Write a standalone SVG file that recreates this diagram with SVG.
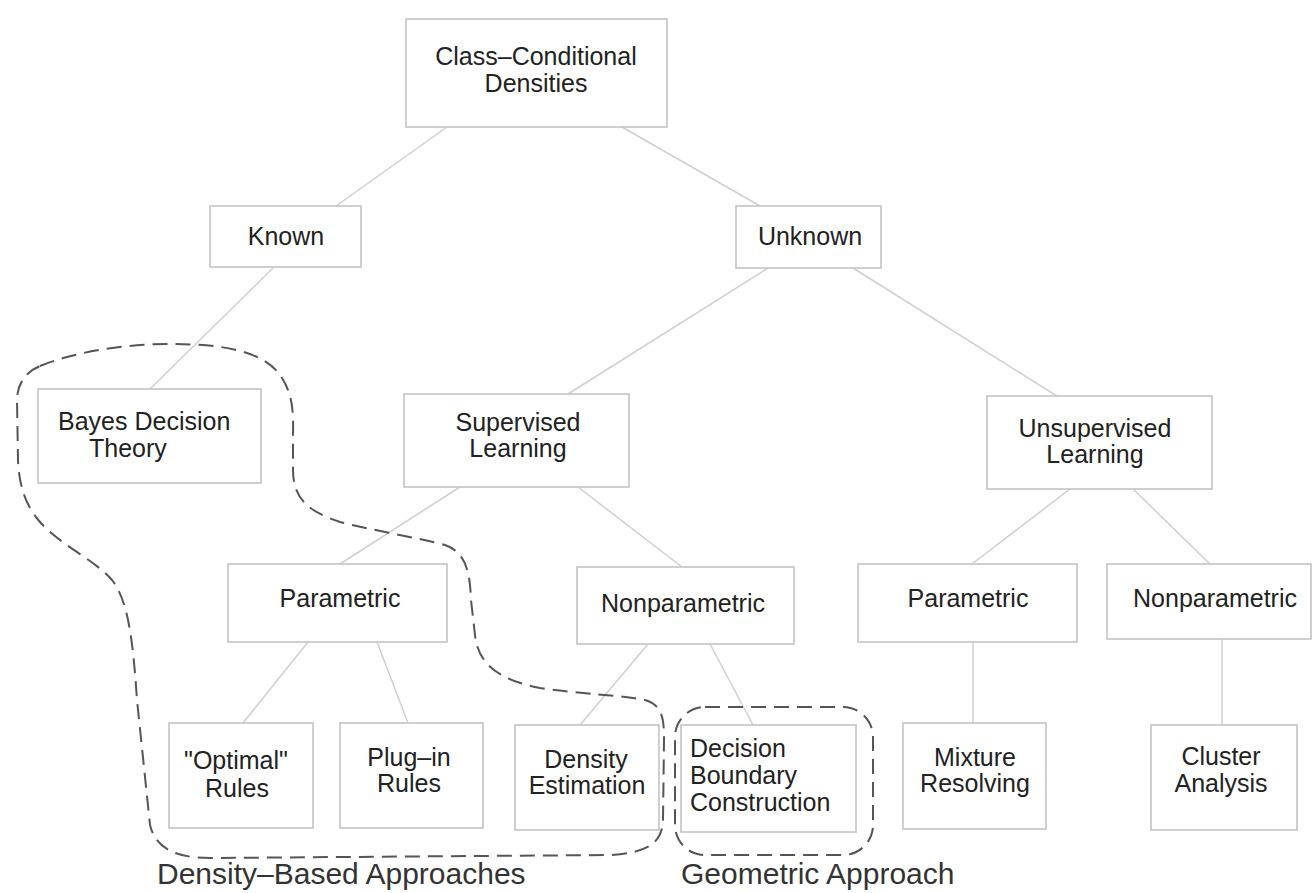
<svg xmlns="http://www.w3.org/2000/svg" width="1312" height="893" viewBox="0 0 1312 893">
<style>
.box{fill:#fff;stroke:#c4c4c4;stroke-width:1.6}
.t{font-family:"Liberation Sans",Arial,sans-serif;font-size:25px;fill:#222;text-anchor:middle}
.ts{font-family:"Liberation Sans",Arial,sans-serif;font-size:25px;fill:#222}
.lbl{font-family:"Liberation Sans",Arial,sans-serif;font-size:30px;fill:#333}
.edge{stroke:#cfcfcf;stroke-width:1.5;fill:none}
.region{fill:none;stroke:#555;stroke-width:2;stroke-dasharray:15 8}
</style>
<rect width="1312" height="893" fill="#fff"/>
<g id="connectors">
<line class="edge" x1="447" y1="127" x2="336" y2="206"/>
<line class="edge" x1="622" y1="127" x2="760" y2="206"/>
<line class="edge" x1="273" y1="268" x2="150" y2="389"/>
<line class="edge" x1="768" y1="268" x2="568" y2="394"/>
<line class="edge" x1="853" y1="268" x2="1057" y2="396"/>
<line class="edge" x1="460" y1="487" x2="340" y2="564"/>
<line class="edge" x1="578" y1="487" x2="682" y2="567"/>
<line class="edge" x1="308" y1="642" x2="243" y2="723"/>
<line class="edge" x1="377" y1="642" x2="408" y2="723"/>
<line class="edge" x1="648" y1="644" x2="580" y2="725"/>
<line class="edge" x1="710" y1="644" x2="753" y2="725"/>
<line class="edge" x1="1070" y1="489" x2="972" y2="564"/>
<line class="edge" x1="1133" y1="489" x2="1210" y2="564"/>
<line class="edge" x1="973" y1="642" x2="973" y2="723"/>
<line class="edge" x1="1222" y1="639" x2="1222" y2="725"/>
</g>
<g id="n-class"><rect class="box" x="406" y="19" width="261" height="108"/><text class="t" x="536" y="65">Class–Conditional</text><text class="t" x="536" y="92">Densities</text></g>
<g id="n-known"><rect class="box" x="210" y="206" width="151" height="61"/><text class="t" x="286" y="245">Known</text></g>
<g id="n-unknown"><rect class="box" x="736" y="206" width="145" height="62"/><text class="t" x="810" y="245">Unknown</text></g>
<g id="n-bayes"><rect class="box" x="38" y="389" width="223" height="94"/><text class="ts" x="58" y="430">Bayes Decision</text><text class="ts" x="89" y="457">Theory</text></g>
<g id="n-sup"><rect class="box" x="404" y="394" width="225" height="93"/><text class="t" x="518" y="431">Supervised</text><text class="t" x="518" y="457">Learning</text></g>
<g id="n-unsup"><rect class="box" x="987" y="396" width="225" height="93"/><text class="t" x="1095" y="437">Unsupervised</text><text class="t" x="1095" y="463">Learning</text></g>
<g id="n-param1"><rect class="box" x="228" y="564" width="219" height="78"/><text class="t" x="340" y="607">Parametric</text></g>
<g id="n-nonparam1"><rect class="box" x="577" y="567" width="217" height="77"/><text class="t" x="683" y="612">Nonparametric</text></g>
<g id="n-param2"><rect class="box" x="858" y="564" width="219" height="78"/><text class="t" x="968" y="607">Parametric</text></g>
<g id="n-nonparam2"><rect class="box" x="1107" y="564" width="204" height="75"/><text class="t" x="1215" y="607">Nonparametric</text></g>
<g id="n-optimal"><rect class="box" x="169" y="723" width="144" height="105"/><text class="t" x="236" y="769">"Optimal"</text><text class="t" x="237" y="797">Rules</text></g>
<g id="n-plugin"><rect class="box" x="340" y="723" width="143" height="105"/><text class="t" x="409" y="766">Plug–in</text><text class="t" x="409" y="792">Rules</text></g>
<g id="n-density"><rect class="box" x="515" y="725" width="144" height="105"/><text class="t" x="586" y="768">Density</text><text class="t" x="587" y="794">Estimation</text></g>
<g id="n-decision"><rect class="box" x="681" y="725" width="175" height="107"/><text class="ts" x="690" y="757" font-size="24">Decision</text><text class="ts" x="690" y="784" font-size="24">Boundary</text><text class="ts" x="690" y="811" font-size="24">Construction</text></g>
<g id="n-mixture"><rect class="box" x="903" y="723" width="143" height="106"/><text class="t" x="975" y="766">Mixture</text><text class="t" x="975" y="792">Resolving</text></g>
<g id="n-cluster"><rect class="box" x="1151" y="725" width="146" height="105"/><text class="t" x="1221" y="765">Cluster</text><text class="t" x="1221" y="792">Analysis</text></g>
<g id="region-density">
<path class="region" d="M40,366 C80,350 130,344 170,344 C220,344 265,350 282,378 C295,398 293,420 293,440 L293,470 C293,500 310,512 340,522 C370,530 420,538 445,545 C465,552 470,570 471,600 L475,635 C478,665 500,680 540,688 C580,694 620,695 645,700 C663,705 664,720 664,740 L663,820 C662,845 645,853 610,855 L210,858 C170,858 155,845 150,825 L137,700 C133,640 128,600 112,580 C95,560 60,545 40,522 C25,505 19,485 18,460 L17,400 C17,385 25,372 40,366 Z"/>
<text class="lbl" x="157" y="884">Density–Based Approaches</text>
</g>
<g id="region-geometric">
<rect class="region" x="675" y="707" width="198" height="148" rx="30"/>
<text class="lbl" x="681" y="884">Geometric Approach</text>
</g>
</svg>
